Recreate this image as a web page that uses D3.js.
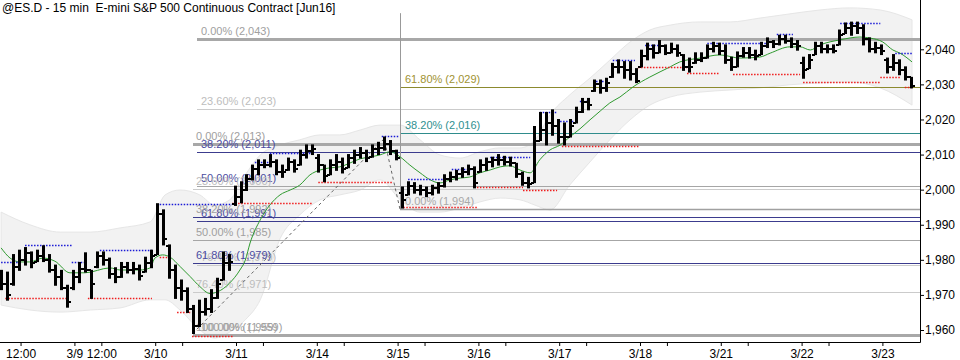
<!DOCTYPE html>
<html><head><meta charset="utf-8">
<script src="https://cdn.jsdelivr.net/npm/d3@7"></script>
<style>
html,body{margin:0;padding:0;background:#fff;}
svg{display:block;font-family:"Liberation Sans",Arial,sans-serif;}
</style></head><body>
<svg id="c" width="960" height="360"></svg>
<script>
// ---------- DATA (30-min bars) ----------
const title = "@ES.D - 15 min  E-mini S&P 500 Continuous Contract [Jun16]";
const hi = [1977,1976.5,1981.5,1982.75,1983.5,1982.25,1982.75,1984,1981.5,1978.5,
1977,1972.75,1977,1979.25,1982,1977,1982.25,1982.25,1980.5,1977.75,
1979.25,1979.25,1979.25,1978.5,1980.75,1982.75,1996,1994.25,1984.25,1978.5,
1974.25,1972,1967,1968.5,1969,1971.5,1974.75,1982.25,1981.5,2001,
2002.25,2004.25,2007,2008.5,2008.5,2010,2008.5,2007,2009,2008.5,
2011.25,2012.75,2012.75,2010,2007,2008.5,2010,2009,2010,2011.25,
2012,2011.25,2012.75,2013.5,2015,2014,2011.25,2000.75,2002.25,2002,
2001.25,2000.75,2001.25,2002,2004.25,2005,2005.5,2006.25,2007,2006.5,
2008.5,2009,2009.25,2010,2009.5,2009.25,2007.5,2005,2003.5,2018,
2022,2022,2022.75,2020,2019,2020,2023.5,2026,2026,2031.25,
2031.25,2031.75,2036,2037,2036.5,2036.5,2034.5,2039.75,2041.75,2041.25,
2042.5,2041.25,2041.75,2041.25,2038.5,2037.5,2039,2039,2041.25,2042,
2041.75,2041.25,2037.75,2039.25,2040.5,2040.5,2039.75,2042,2043.25,2042.5,
2044,2044,2043.25,2042.5,2037.75,2038.5,2042,2042,2041.25,2041.25,
2045.5,2047.5,2047.75,2047.75,2047,2043.25,2042,2041.25,2037.5,2038.5,
2037,2035,2032];
const lo = [1971.5,1968.5,1972.75,1977,1978.5,1977.75,1979.5,1979.5,1976.5,1972.75,
1971.5,1966.5,1971.5,1973.5,1976.5,1969,1977.75,1978.5,1974.75,1973.5,
1975,1976.25,1976,1974.25,1976.5,1977.75,1981.5,1984.25,1974.75,1969,
1968.5,1965,1959,1961,1964.25,1965,1969,1974.25,1977,1995.5,
1996.25,1999.75,2002.75,2004.25,2006.25,2006.5,2004.25,2003.5,2005.5,2005,
2007,2009,2010,2005,2002.25,2004.25,2005.5,2004.75,2006.25,2007.5,
2009,2008,2009.25,2010,2011.25,2010,2008.5,1994.75,1998.5,1999,
1998.5,1998,1998.5,1999,2000.75,2002.25,2002.75,2003.5,2004.25,2000.5,
2005,2005.5,2006.5,2007,2007,2006.75,2003.5,2001.25,2000.5,2002,
2014,2012.75,2015.5,2013.25,2012.75,2015,2019,2022,2022.75,2028,
2027.5,2028,2032,2033.25,2031.75,2031.25,2030.5,2035,2037,2037.5,
2039,2038.5,2039,2038,2034,2033.5,2036,2036.5,2037.5,2039.25,
2038.5,2036,2034,2035,2037.75,2037.5,2037,2038.5,2040.5,2040.5,
2041.25,2041.75,2040.5,2039.75,2031.75,2034.5,2038.5,2039,2039,2039,
2041.25,2044.5,2044,2044.5,2041.25,2039.25,2039,2038.5,2033.25,2034,
2032.75,2031.25,2029];
const op = [1976,1973,1973,1978,1980,1982,1979.5,1981,1980,1977,
1975,1972,1972,1975,1977.5,1977,1978,1981,1980,1976,
1975,1978,1977,1977.5,1976.5,1979,1981.5,1993,1984,1977,
1972,1971,1966,1961,1965,1966,1969,1974.25,1979,1996,
1998,2000,2003,2006,2007,2007,2008,2005,2005.5,2008,
2007,2010,2011,2009,2007,2004.25,2007,2008,2006.25,2009,
2010,2010.5,2009.25,2011.5,2012,2013,2011,1999,1998.5,2001,
2000,2000,1999,2000.5,2001,2003,2003.5,2004.5,2005,2006,
2005,2007,2008,2008.5,2008.5,2008,2007.5,2004.5,2002,2002,
2014,2017,2019,2018,2015,2015,2019,2022,2025,2028,
2030,2029,2032,2035,2035,2034,2033,2035,2038,2040,
2039,2041,2039,2040,2038.5,2035,2036,2037,2037.5,2040,
2041,2039.5,2037,2035,2038,2039,2038.5,2038.5,2041,2042,
2041.5,2043,2042.5,2041.5,2036,2034.5,2038.5,2041,2040,2040,
2041.25,2044.5,2046,2046.5,2046,2043,2040,2040.5,2037,2035,
2036,2034,2032];
const cl = [1973,1970,1978,1980,1982,1979,1981,1980,1977,1975,
1972,1968,1975,1977.5,1977,1973,1981,1980,1976,1975,
1978,1977,1977.5,1975.5,1979,1981,1993,1986,1977,1972,
1971,1966,1961,1965,1966,1969,1973,1979,1979.5,1998,
2000,2003,2006,2007,2007,2008,2005,2005,2008,2006,
2010,2011,2011.5,2007,2004,2007,2008,2006,2009,2010,
2010.5,2009,2011.5,2012,2013,2011,2009,1997,2001,2000,
2000,1999,2000.5,2001,2003,2003.5,2004.5,2005,2006,2002,
2007,2008,2008.5,2008.5,2008,2007.5,2004.5,2002,2001.5,2014,
2017,2019,2018,2015,2015,2018,2022,2025,2024,2030,
2029,2030.5,2035,2035,2034,2033,2031,2038,2040,2039,
2041,2039,2040,2039,2035,2035,2037,2037.5,2040,2041,
2039.5,2037,2035,2038,2039,2038.5,2038,2041,2042,2041.5,
2043,2042.5,2041.5,2041,2034,2037,2041,2040,2040,2039.5,
2044,2046,2046.5,2046,2043,2040,2040.5,2039.5,2035,2036,
2034,2032,2029.5];

// moving average (green) sampled along the bars (bar index, value)
const maIdx = [0,1.5,3.2,4.8,7,9,11.5,14,18.2,19.9,23.2,24.9,25.7,27,28.2,29.9,31.6,33.2,34.9,36.2,
38.2,39.9,40.8,41.6,43.3,44.9,46.6,48.3,49.9,51.6,53.3,54.9,56.6,58.3,60,61.6,63.3,65,66.7,68.3,
70,71.7,73.3,75,76.7,78.3,80,81.7,83.4,85,86.7,88.4,90,91.7,93.4,95,96.7,98.4,100.1,101.7,
103.4,105.6,108.4,111.8,113.4,116.8,120.1,123.5,126.8,128.5,131.8,133.5,135.2,136.8,140.2,143.5,145.2,147.3,149,150.2,152.2];
const maVal = [1983.4,1980.5,1979.4,1979.4,1980.5,1979.6,1976.3,1976.3,1977.7,1977.1,1977.1,1977.7,1980.5,1981.4,1980.8,1978.1,1975.2,1972.4,1970.4,1970.9,
1973.4,1977.1,1979.9,1984.8,1991.4,1995.6,1998.5,1999.9,2001.3,2004.2,2005.6,2006.2,2006.5,2007.6,2008.8,2009.3,2009.9,2010.8,2009.3,2007.0,
2004.8,2002.8,2001.9,2002.8,2003.3,2003.6,2004.8,2005.6,2006.5,2006.8,2005.6,2004.8,2008.5,2011.3,2012.7,2015.0,2017.3,2019.9,2022.4,2024.7,
2026.4,2029.3,2032.1,2035.0,2036.4,2037.5,2038.4,2037.5,2037.8,2038.9,2040.7,2040.7,2039.8,2041.2,2042.7,2043.5,2043.2,2042.1,2039.8,2038.9,2036.4];

// envelope band (light grey)
const bandIdx = [0,4.8,9.9,14.9,19.9,24.9,27.4,29.9,33.2,35.7,38.2,40.8,43.3,46.6,49.9,53.3,56.6,60,63.3,66.7,
70,73.3,76.7,80,83.4,86.7,89.2,91.7,95,98.4,101.7,105.1,108.4,111.8,116.8,121.8,126.8,131.8,136.8,141.8,146.9,152.2];
const bandHi = [1993.6,1990.0,1987.9,1987.9,1989.1,1990.8,1998.5,1999.9,1998.5,1995.6,1997.1,2004.2,2009.9,2012.7,2014.2,2015.6,2015.6,2017.0,2018.4,2018.4,
2014.2,2009.9,2009.0,2010.8,2011.9,2011.9,2014.2,2021.3,2027.0,2031.8,2036.9,2042.1,2045.5,2046.9,2047.8,2047.8,2048.9,2050.1,2051.2,2051.8,2051.2,2048.4];
const bandLo = [1967.1,1965.7,1965.1,1965.7,1966.3,1968.6,1968.6,1965.7,1960.0,1957.7,1959.4,1962.9,1968.6,1986.0,1992.8,1997.1,1998.5,1999.9,2002.8,1997.1,
1993.6,1993.6,1994.8,1996.5,1997.6,1997.1,1995.6,1994.2,2001.3,2007.9,2014.2,2019.9,2024.1,2026.4,2027.8,2028.4,2029.0,2029.9,2030.4,2030.7,2029.0,2024.1];

// resistance (blue dotted) and support (red dotted) segments: start bar, end bar, price
const resStart = [0,4,11.8,16.5,26.5,42.4,44.9,63.6,68,75.3,81.7,90,93.4,96.7,98.9,102.2,107.6,118,129.6,140.2,149.4];
const resEnd   = [3.5,11.8,14.2,25.2,38.6,44.9,52.1,66.6,73.8,79.2,88.4,92.9,95.6,98.4,100.9,105.9,109.8,128,132.3,146.9,152.2];
const resVal   = [1979.5,1984.25,1979.5,1982.75,1996,2008,2010.5,2015.25,2003,2006,2009.25,2022,2019.5,2025.25,2031,2037,2041.25,2041.75,2044.5,2047.5,2039];
const supStart = [0.7,14.5,26.5,29.4,31.9,38.6,53,67.2,79.5,87.2,93.7,106.4,114.6,122.3,134,146.9,151];
const supEnd   = [11.2,25.2,27.9,31.6,38.7,52.1,65.5,79.5,87.2,92.9,106.7,114.6,120.1,133.5,146.9,150.2,152.2];
const supVal   = [1969,1969,1980.75,1965,1958.25,1996.25,2002.25,1995,2000.75,2000,2012.5,2035,2033.25,2033,2030.75,2032,2029.25];

// Fibonacci tools
const fibTool  = ["N","N","N","N","N","N","N","G","G","G","G","G","G","G","T","T","T"];
const fibVal   = [2043,2022.9,2010.65,2001,1991.15,1978.6,1958.7,2013,2000.3,1992.1,1985.65,1979,1970.9,1958.5,1994.4,2016.1,2029.2];
const fibLabel = ["0.00% (2,043)","23.60% (2,023)","38.20% (2,011)","50.00% (2,001)","61.80% (1,991)","76.40% (1,979)","100.00% (1,959)",
                  "0.00% (2,013)","23.60% (2,000)","38.20% (1,992)","50.00% (1,985)","61.80% (1,979)","76.40% (1,971)","100.00% (1,959)",
                  "0.00% (1,994)","38.20% (2,016)","61.80% (2,029)"];
const fibToolStart = {N:32.75, G:32, T:66.65};
const fibTTop = 2050.3;
const zigIdx = [32,64,66.65];
const zigVal = [1959,2014.5,1994.4];

// axis
const yTicks = [1960,1970,1980,1990,2000,2010,2020,2030,2040];
const dayLabels = ["3/9","3/10","3/11","3/14","3/15","3/16","3/17","3/18","3/21","3/22","3/23"];
const halfLabels = ["12:00","12:00","","","","","","","","",""];
const barsPerDay = 13.5, firstDayIdx = 12.25, halfOffset = 4.5;

// ---------- STYLES ----------
const lineStyle = {
  edge:{stroke:"#a8a8a8", w:3}, light:{stroke:"#cbcbcb", w:1}, gray:{stroke:"#a6a6a6", w:1},
  navy:{stroke:"#3c3c8e", w:1}, teal:{stroke:"#2f8c8c", w:1}, olive:{stroke:"#8c8a2e", w:1}, thin:{stroke:"#a0a0a0", w:1.5}
};
const textColor = {edge:"#a0a0a0", light:"#bdbdbd", gray:"#a0a0a0", navy:"#4b4ba0", teal:"#2f9090", olive:"#a09232", thin:"#a8a8a8"};
const fibLineKind = ["edge","light","navy","gray","navy","light","edge","edge","light","navy","gray","navy","light","edge","thin","teal","olive"];
const fibTextKind = ["edge","light","navy","navy","navy","light","edge","edge","light","gray","gray","navy","light","edge","thin","teal","olive"];
const labelDx = {N:4, G:3, T:5};

// ---------- DRAW ----------
const PR = 920, PB = 342;
const svg = d3.select("#c");
const x = d3.scaleLinear().domain([0,152]).range([1.1, 1.1 + 5.985*152]);
const y = d3.scaleLinear().domain([1960,2040]).range([330,49.3]);

svg.append("defs").append("clipPath").attr("id","clip")
  .append("rect").attr("x",0).attr("y",0).attr("width",PR).attr("height",PB);
const g = svg.append("g").attr("clip-path","url(#clip)");

// band
const band = bandIdx.map((k,i)=>({k, h:bandHi[i], l:bandLo[i]}));
g.append("path").datum(band)
  .attr("d", d3.area().x(d=>x(d.k)).y0(d=>y(d.l)).y1(d=>y(d.h)).curve(d3.curveMonotoneX))
  .attr("fill","#f2f2f2").attr("stroke","#e6e6e6").attr("stroke-width",1);

// fib lines
const fibs = fibVal.map((v,i)=>({v, tool:fibTool[i], label:fibLabel[i], lk:fibLineKind[i], tk:fibTextKind[i]}));
g.selectAll("line.fib").data(fibs).join("line").attr("class","fib")
  .attr("x1", d=>Math.round(x(fibToolStart[d.tool]))).attr("x2", PR)
  .attr("y1", d=>Math.round(y(d.v))+0.5).attr("y2", d=>Math.round(y(d.v))+0.5)
  .attr("stroke", d=>lineStyle[d.lk].stroke).attr("stroke-width", d=>lineStyle[d.lk].w);
// vertical edge of third tool
g.append("line").attr("x1",Math.round(x(fibToolStart.T))+0.5).attr("x2",Math.round(x(fibToolStart.T))+0.5)
  .attr("y1",y(fibTTop)).attr("y2",y(1994.4)).attr("stroke","#999").attr("stroke-width",1);
// labels
g.selectAll("text.fib").data(fibs).join("text").attr("class","fib")
  .attr("x", d=>Math.round(x(fibToolStart[d.tool]))+labelDx[d.tool])
  .attr("y", d=>Math.round(y(d.v))-4)
  .attr("font-size",11).attr("fill", d=>textColor[d.tk]).text(d=>d.label);

// zigzag dashed
g.append("path").datum(zigIdx.map((k,i)=>[k,zigVal[i]]))
  .attr("d", d3.line().x(d=>x(d[0])).y(d=>y(d[1])))
  .attr("fill","none").attr("stroke","#666").attr("stroke-width",1).attr("stroke-dasharray","3,3");

// moving average
g.append("path").datum(maIdx.map((k,i)=>[k,maVal[i]]))
  .attr("d", d3.line().x(d=>x(d[0])).y(d=>y(d[1])).curve(d3.curveMonotoneX))
  .attr("fill","none").attr("stroke","#2f9a2f").attr("stroke-width",1);

// support / resistance dotted
function dotted(starts, ends, vals, color){
  g.append("g").selectAll("line").data(vals).join("line")
    .attr("x1",(d,i)=>x(starts[i])).attr("x2",(d,i)=>x(ends[i]))
    .attr("y1",d=>Math.round(y(d))+0.5).attr("y2",d=>Math.round(y(d))+0.5)
    .attr("stroke",color).attr("stroke-width",1.6).attr("stroke-dasharray","1.5,1.5");
}
dotted(resStart,resEnd,resVal,"#1a1ad6");
dotted(supStart,supEnd,supVal,"#f01c1c");

// OHLC bars
const bars = hi.map((h,i)=>({i,h,l:lo[i],o:op[i],c:cl[i]}));
g.append("g").selectAll("path.st").data(bars).join("path").attr("class","st")
  .attr("d", d=>{ const xc = Math.round(x(d.i)) + 0.5; return `M${xc},${y(d.h)-0.5}V${y(d.l)+0.5}`; })
  .attr("fill","none").attr("stroke","#000").attr("stroke-width",3);
g.append("g").selectAll("path.tk").data(bars).join("path").attr("class","tk")
  .attr("d", d=>{
    const xc = Math.round(x(d.i));
    const yo = Math.round(y(d.o)), yc = Math.round(y(d.c));
    return `M${xc-3},${yo}H${xc}M${xc+1},${yc}H${xc+4}`;
  })
  .attr("fill","none").attr("stroke","#000").attr("stroke-width",2);

// axes
const yAxis = d3.axisRight(y).tickValues(yTicks).tickSize(4).tickPadding(1).tickFormat(d3.format(","));
const ya = svg.append("g").attr("transform",`translate(${PR},0)`).call(yAxis);
ya.select(".domain").remove();
ya.selectAll("text").attr("font-size",12).attr("font-family","Liberation Sans, Arial, sans-serif").attr("fill","#000");

const majorIdx = dayLabels.map((d,i)=>firstDayIdx + barsPerDay*i);
const minorIdx = halfLabels.map((d,i)=>firstDayIdx + barsPerDay*(i-1) + halfOffset);
const xa1 = svg.append("g").attr("transform",`translate(0,${PB})`)
  .call(d3.axisBottom(x).tickValues(majorIdx).tickSize(4).tickPadding(3).tickFormat((d,i)=>dayLabels[i]));
const xa2 = svg.append("g").attr("transform",`translate(0,${PB})`)
  .call(d3.axisBottom(x).tickValues(minorIdx).tickSize(4).tickPadding(3).tickFormat((d,i)=>halfLabels[i]));
[xa1,xa2].forEach(a=>{ a.select(".domain").remove();
  a.selectAll("text").attr("font-size",12).attr("font-family","Liberation Sans, Arial, sans-serif").attr("fill","#000"); });

svg.append("line").attr("x1",PR+0.5).attr("x2",PR+0.5).attr("y1",0).attr("y2",PB+0.5).attr("stroke","#000");
svg.append("line").attr("x1",0).attr("x2",PR+0.5).attr("y1",PB+0.5).attr("y2",PB+0.5).attr("stroke","#000");

// title
svg.append("text").attr("x",2).attr("y",12).attr("font-size",12).attr("fill","#000")
  .style("white-space","pre").attr("xml:space","preserve").text(title);
</script>
</body></html>
